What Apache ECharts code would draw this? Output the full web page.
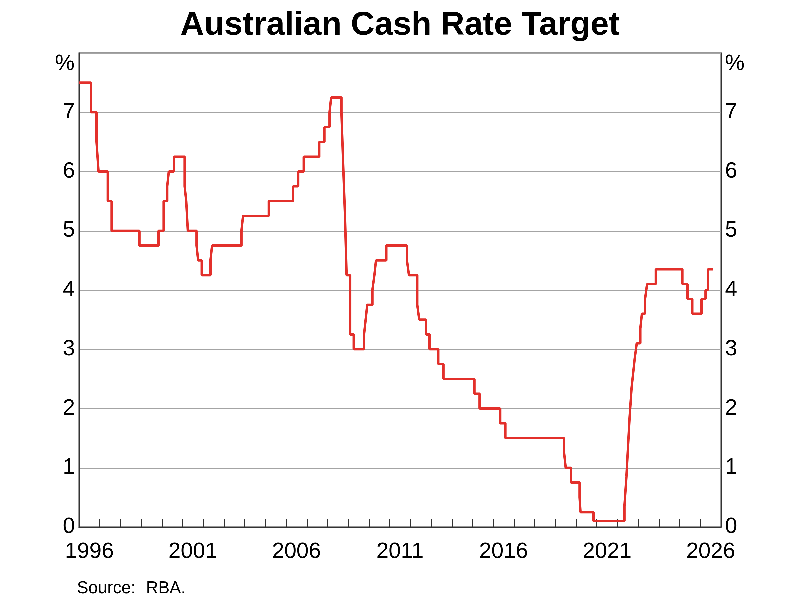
<!DOCTYPE html>
<html>
<head>
<meta charset="utf-8">
<script src="https://cdn.jsdelivr.net/npm/echarts@6/dist/echarts.min.js"></script>
<style>
  html, body { margin: 0; padding: 0; background: #fff; }
  #chart { width: 800px; height: 605px; }
</style>
</head>
<body>
<div id="chart"></div>
<script>
// Cash rate target: date each new rate took effect, and the rate (%)
const changeDates = [
  '1996-01-01', '1996-07-31', '1996-11-06', '1996-12-11', '1997-05-23', '1997-07-30',
  '1998-12-02', '1999-11-03', '2000-02-02', '2000-04-05', '2000-05-03', '2000-08-02',
  '2001-02-07', '2001-03-07', '2001-04-04', '2001-09-05', '2001-10-03', '2001-12-05',
  '2002-05-08', '2002-06-05', '2003-11-05', '2003-12-03', '2005-03-02', '2006-05-03',
  '2006-08-02', '2006-11-08', '2007-08-08', '2007-11-07', '2008-02-06', '2008-03-05',
  '2008-09-03', '2008-10-08', '2008-11-05', '2008-12-03', '2009-02-04', '2009-04-08',
  '2009-10-07', '2009-11-04', '2009-12-02', '2010-03-03', '2010-04-07', '2010-05-05',
  '2010-11-03', '2011-11-02', '2011-12-07', '2012-05-02', '2012-06-06', '2012-10-03',
  '2012-12-05', '2013-05-08', '2013-08-07', '2015-02-04', '2015-05-06', '2016-05-04',
  '2016-08-03', '2019-06-05', '2019-07-03', '2019-10-02', '2020-03-04', '2020-03-20',
  '2020-11-04', '2022-05-04', '2022-06-08', '2022-07-06', '2022-08-03', '2022-09-07',
  '2022-10-05', '2022-11-02', '2022-12-07', '2023-02-08', '2023-03-08', '2023-05-03',
  '2023-06-07', '2023-11-08', '2025-02-19', '2025-05-21', '2025-08-13', '2026-01-22',
  '2026-04-04', '2026-05-15', '2026-08-18'
]
const rates = [
  7.50, 7.00, 6.50, 6.00, 5.50, 5.00,
  4.75, 5.00, 5.50, 5.75, 6.00, 6.25,
  5.75, 5.50, 5.00, 4.75, 4.50, 4.25,
  4.50, 4.75, 5.00, 5.25, 5.50, 5.75,
  6.00, 6.25, 6.50, 6.75, 7.00, 7.25,
  7.00, 6.00, 5.25, 4.25, 3.25, 3.00,
  3.25, 3.50, 3.75, 4.00, 4.25, 4.50,
  4.75, 4.50, 4.25, 3.75, 3.50, 3.25,
  3.00, 2.75, 2.50, 2.25, 2.00, 1.75,
  1.50, 1.25, 1.00, 0.75, 0.50, 0.25,
  0.10, 0.35, 0.85, 1.35, 1.85, 2.35,
  2.60, 2.85, 3.10, 3.35, 3.60, 3.85,
  4.10, 4.35, 4.10, 3.85, 3.60, 3.85,
  4.00, 4.35, 4.35
]
const yearLabels = ['1996', '2001', '2006', '2011', '2016', '2021', '2026']
const yTicks = [0, 1, 2, 3, 4, 5, 6, 7]

const FONT = 'Arial, "Liberation Sans", sans-serif'

// date string -> decimal year
function toYear(s) {
  const d = new Date(s + 'T00:00:00Z')
  const y = d.getUTCFullYear()
  const start = Date.UTC(y, 0, 1)
  const end = Date.UTC(y + 1, 0, 1)
  return y + (d.getTime() - start) / (end - start)
}

const seriesData = changeDates.map((d, i) => [toYear(d), rates[i]])

// higher pixel ratio so the short step segments are not dropped by the renderer
const chart = echarts.init(document.getElementById('chart'), null, { renderer: 'canvas', devicePixelRatio: 3 })

const yAxisBase = {
  type: 'value',
  min: 0,
  max: 8,
  interval: 1,
  axisLine: { show: true, lineStyle: { color: '#333', width: 1 } },
  axisTick: { show: false },
  axisLabel: {
    fontSize: 22,
    fontFamily: FONT,
    color: '#000',
    margin: 4,
    padding: [3, 0, 0, 0],
    showMaxLabel: false,
    formatter: v => (yTicks.includes(v) ? String(v) : '')
  }
}

chart.setOption({
  animation: false,
  backgroundColor: '#fff',
  title: {
    text: 'Australian Cash Rate Target',
    left: 'center',
    top: 4,
    textStyle: { fontSize: 33, fontWeight: 'bold', fontFamily: FONT, color: '#000' }
  },
  grid: {
    left: 79, right: 79, top: 53, bottom: 78,
    show: true, borderColor: '#333', borderWidth: 1,
    containLabel: false
  },
  xAxis: [
    {
      // year ticks
      type: 'value', min: 1996, max: 2027, interval: 1,
      axisLine: { show: true, lineStyle: { color: '#333', width: 1 } },
      axisTick: { show: true, inside: true, length: 8, lineStyle: { color: '#333', width: 1 } },
      axisLabel: { show: false },
      splitLine: { show: false }
    },
    {
      // labels centred on each labelled year
      type: 'value', min: 1996, max: 2027, interval: 0.5, position: 'bottom',
      axisLine: { show: false },
      axisTick: { show: false },
      splitLine: { show: false },
      axisLabel: {
        fontSize: 22, fontFamily: FONT, color: '#000', margin: 14,
        showMinLabel: false, showMaxLabel: false,
        formatter: v => {
          const yr = String(Math.floor(v))
          return Math.abs(v - Math.floor(v) - 0.5) < 1e-6 && yearLabels.includes(yr) ? yr : ''
        }
      }
    }
  ],
  yAxis: [
    Object.assign({}, yAxisBase, {
      position: 'left',
      splitLine: { show: true, lineStyle: { color: '#a4a4a4', width: 1 } }
    }),
    Object.assign({}, yAxisBase, {
      position: 'right',
      splitLine: { show: false }
    })
  ],
  graphic: [
    { type: 'text', left: 55, top: 53, style: { text: '%', font: '22px ' + FONT, fill: '#000' } },
    { type: 'text', left: 725, top: 53, style: { text: '%', font: '22px ' + FONT, fill: '#000' } },
    { type: 'text', left: 77, top: 580, style: { text: 'Source:', font: '17px ' + FONT, fill: '#000' } },
    { type: 'text', left: 146, top: 580, style: { text: 'RBA.', font: '17px ' + FONT, fill: '#000' } }
  ],
  series: [
    {
      name: 'Cash rate target',
      type: 'line',
      step: 'end',
      xAxisIndex: 0,
      yAxisIndex: 0,
      data: seriesData,
      showSymbol: false,
      symbol: 'none',
      lineStyle: { color: '#e3302b', width: 2.4 }
    }
  ]
})
</script>
</body>
</html>
